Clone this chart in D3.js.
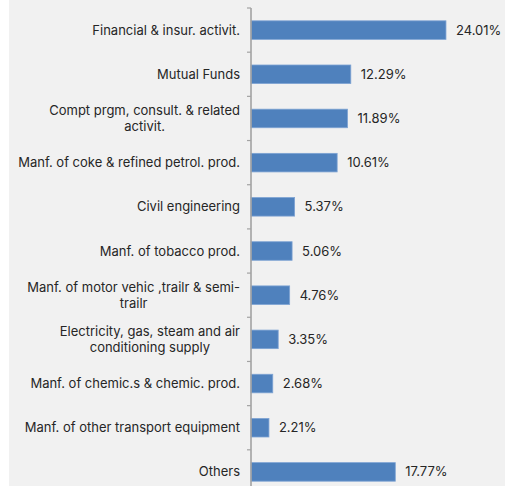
<!DOCTYPE html>
<html>
<head>
<meta charset="utf-8">
<script src="https://cdn.jsdelivr.net/npm/d3@7"></script>
<style>
  html, body { margin: 0; padding: 0; background: #ffffff; }
  svg { display: block; }
</style>
</head>
<body>
<svg id="chart" width="505" height="490"></svg>
<script>
// Sector shares, top to bottom; "\n" marks a wrapped label line
const categories = [
  "Financial & insur. activit.",
  "Mutual Funds",
  "Compt prgm, consult. & related\nactivit.",
  "Manf. of coke & refined petrol. prod.",
  "Civil engineering",
  "Manf. of tobacco prod.",
  "Manf. of motor vehic ,trailr & semi-\ntrailr",
  "Electricity, gas, steam and air\nconditioning supply",
  "Manf. of chemic.s & chemic. prod.",
  "Manf. of other transport equipment",
  "Others"
];
const values = [24.01, 12.29, 11.89, 10.61, 5.37, 5.06, 4.76, 3.35, 2.68, 2.21, 17.77];
const valueLabels = ["24.01%", "12.29%", "11.89%", "10.61%", "5.37%", "5.06%", "4.76%", "3.35%", "2.68%", "2.21%", "17.77%"];

const svg = d3.select("#chart");
const fontFamily = "Inter, 'Open Sans', sans-serif";
const fontSize = 13;

// grey plot panel
svg.append("rect")
  .attr("x", 9).attr("y", 0)
  .attr("width", 496).attr("height", 486)
  .attr("fill", "#f1f1f1");

const panel = svg.append("g").attr("clip-path", "url(#panelClip)");
svg.append("clipPath").attr("id", "panelClip")
  .append("rect").attr("x", 9).attr("y", 0).attr("width", 496).attr("height", 486);

const y = d3.scaleBand()
  .domain(d3.range(categories.length))
  .range([8, 494])
  .paddingInner(0.58)
  .paddingOuter(0.29);

const x = d3.scaleLinear()
  .domain([0, 30])
  .range([251, 494.6]);

// bars
panel.selectAll("rect.bar")
  .data(values)
  .join("rect")
  .attr("class", "bar")
  .attr("x", x(0))
  .attr("y", (d, i) => y(i))
  .attr("width", d => x(d) - x(0))
  .attr("height", y.bandwidth())
  .attr("fill", "#4f81bd")
  .attr("stroke", "#7ea3d3")
  .attr("stroke-width", 0.8);

// category axis with ticks on band boundaries
const bandEdges = d3.range(categories.length + 1).map(i => 8 + i * (494 - 8) / categories.length);
panel.append("line")
  .attr("x1", x(0)).attr("x2", x(0))
  .attr("y1", 8).attr("y2", 494)
  .attr("stroke", "#a3a3a3").attr("stroke-width", 1.6);
panel.selectAll("line.tick")
  .data(bandEdges)
  .join("line")
  .attr("class", "tick")
  .attr("x1", x(0) - 4).attr("x2", x(0))
  .attr("y1", d => d).attr("y2", d => d)
  .attr("stroke", "#a3a3a3").attr("stroke-width", 1.2);

// category labels: one text per category, wrapped lines as tspans centred
// within a block whose right edge sits just left of the axis
const labelRight = 240;
const lineH = 16;
categories.forEach((cat, i) => {
  const lines = cat.split("\n");
  const cy = y(i) + y.bandwidth() / 2;
  const text = panel.append("text")
    .attr("font-family", fontFamily)
    .attr("font-size", fontSize)
    .attr("fill", "#262626")
    .attr("text-anchor", "middle");
  const spans = lines.map((ln, k) => text.append("tspan")
    .attr("y", cy + (k - (lines.length - 1) / 2) * lineH)
    .attr("dy", "0.35em")
    .text(ln));
  const maxW = d3.max(spans, s => s.node().getComputedTextLength());
  spans.forEach(s => s.attr("x", labelRight - maxW / 2));
});

// value labels after each bar
panel.selectAll("text.val")
  .data(values)
  .join("text")
  .attr("class", "val")
  .attr("x", d => x(d) + 10)
  .attr("y", (d, i) => y(i) + y.bandwidth() / 2)
  .attr("dy", "0.35em")
  .attr("font-family", fontFamily)
  .attr("font-size", fontSize)
  .attr("fill", "#262626")
  .text((d, i) => valueLabels[i]);
</script>
</body>
</html>
